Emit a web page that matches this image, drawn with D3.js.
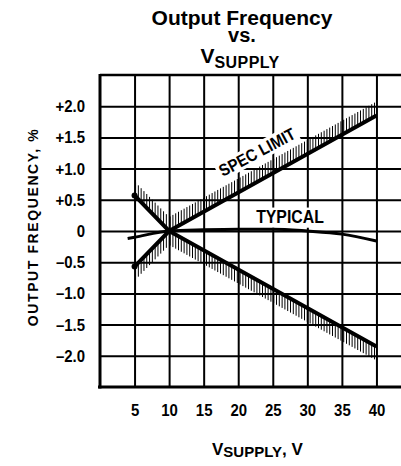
<!DOCTYPE html>
<html>
<head>
<meta charset="utf-8">
<script src="https://cdn.jsdelivr.net/npm/d3@7"></script>
<style>
  body { margin: 0; background: #fff; }
  svg { display: block; }
  .bold { font-family: 'Liberation Sans', Arial, Helvetica, sans-serif; font-weight: bold; }
</style>
</head>
<body>
<svg id="chart" width="401" height="466"></svg>
<script>
// data
const vTicks = [5, 10, 15, 20, 25, 30, 35, 40];
const fTicks = [2, 1.5, 1, 0.5, 0, -0.5, -1, -1.5, -2];
const typicalV = [4, 5, 10, 15, 20, 25, 30, 35, 40];
const typicalF = [-0.12, -0.1, 0, 0.02, 0.03, 0.03, 0.0, -0.05, -0.16];
const specV = [5, 10, 40];
const specUpper = [0.57, 0, 1.85];
const specLower = [-0.57, 0, -1.85];

const svg = d3.select('#chart');
const W = 401;
const mLeft = 100, mTop = 75, mBottom = 387;
const squeeze = 0.88; // fake a condensed face

const x = d3.scaleLinear().domain([0, 45]).range([mLeft, 411]);
const y = d3.scaleLinear().domain([-2.5, 2.5]).range([mBottom, mTop]);

// title, three separate lines
const titleLine = (txt, ty, size) => svg.append('text')
  .attr('class', 'bold')
  .attr('text-anchor', 'middle')
  .attr('x', 242).attr('y', ty)
  .style('font-size', size + 'px')
  .text(txt);
titleLine('Output Frequency', 25, 21);
titleLine('vs.', 42, 20);
const t3 = svg.append('text').attr('class', 'bold')
  .attr('text-anchor', 'middle').attr('x', 240).attr('y', 63)
  .style('font-size', '21px');
t3.append('tspan').text('V');
t3.append('tspan').attr('dy', 5).style('font-size', '16px')
  .style('letter-spacing', '0.4px').text('SUPPLY');

// grid + y labels
const yAxis = d3.axisLeft(y)
  .tickValues(fTicks)
  .tickSize(-(W - mLeft))
  .tickPadding(15)
  .tickFormat(d => d === 0 ? '0' : (d > 0 ? '+' : '\u2013') + Math.abs(d).toFixed(1));
const gy = svg.append('g')
  .attr('transform', `translate(${mLeft},0)`)
  .call(yAxis);
gy.select('.domain').remove();
gy.selectAll('line').attr('stroke', '#000').attr('stroke-width', 2);
gy.selectAll('text').attr('class', 'bold').style('font-size', '17px').attr('fill', '#000')
  .attr('x', -15 / squeeze).attr('transform', `scale(${squeeze},1)`);

const xAxis = d3.axisBottom(x)
  .tickValues(vTicks)
  .tickSize(-(mBottom - mTop))
  .tickPadding(17);
const gx = svg.append('g')
  .attr('transform', `translate(0,${mBottom})`)
  .call(xAxis);
gx.select('.domain').remove();
gx.selectAll('line').attr('stroke', '#000').attr('stroke-width', 2);
gx.selectAll('text').attr('class', 'bold').style('font-size', '17px').attr('fill', '#000')
  .attr('transform', `scale(${squeeze},1)`);

// frame
svg.append('line').attr('x1', mLeft).attr('x2', W).attr('y1', mTop).attr('y2', mTop)
  .attr('stroke', '#000').attr('stroke-width', 2.5);
svg.append('line').attr('x1', mLeft).attr('x2', mLeft).attr('y1', mTop - 1).attr('y2', mBottom + 1.5)
  .attr('stroke', '#000').attr('stroke-width', 3);
svg.append('line').attr('x1', mLeft - 2).attr('x2', W).attr('y1', mBottom).attr('y2', mBottom)
  .attr('stroke', '#000').attr('stroke-width', 3);

// hatching on the outer side of the spec limit
const hatch = (vals, dir) => {
  const g = svg.append('g').attr('stroke', '#000').attr('stroke-width', 1);
  for (let i = 0; i < specV.length - 1; i++) {
    const x0 = x(specV[i]), x1 = x(specV[i + 1]);
    const y0 = y(vals[i]), y1 = y(vals[i + 1]);
    d3.range(x0 + 1, x1, 2.8).forEach(px => {
      const py = y0 + (y1 - y0) * (px - x0) / (x1 - x0);
      g.append('line').attr('x1', px).attr('x2', px)
        .attr('y1', py).attr('y2', py + dir * 14);
    });
  }
};
hatch(specUpper, -1);
hatch(specLower, 1);

// labels with white backing
const label = (txt, cx, cy, ang, size) => {
  const g = svg.append('g')
    .attr('transform', `translate(${cx},${cy}) rotate(${ang}) scale(${squeeze},1)`);
  const t = g.append('text').attr('class', 'bold')
    .attr('text-anchor', 'middle').attr('dy', '0.36em')
    .style('font-size', size + 'px').text(txt);
  const b = t.node().getBBox();
  g.insert('rect', 'text').attr('x', b.x - 3).attr('y', b.y).attr('width', b.width + 6)
    .attr('height', b.height).attr('fill', '#fff');
};
label('SPEC LIMIT', 257, 152, -28, 17);
label('TYPICAL', 290, 217, 0, 18);

// lines
const line = d3.line().x(d => x(d[0])).y(d => y(d[1]));
svg.append('path').datum(specV.map((v, i) => [v, specUpper[i]]))
  .attr('d', line).attr('fill', 'none').attr('stroke', '#000').attr('stroke-width', 4);
svg.append('path').datum(specV.map((v, i) => [v, specLower[i]]))
  .attr('d', line).attr('fill', 'none').attr('stroke', '#000').attr('stroke-width', 4);
svg.append('path').datum(typicalV.map((v, i) => [v, typicalF[i]]))
  .attr('d', d3.line().x(d => x(d[0])).y(d => y(d[1])).curve(d3.curveMonotoneX))
  .attr('fill', 'none').attr('stroke', '#000').attr('stroke-width', 3);
svg.selectAll('.dot').data([specUpper[0], specLower[0]]).join('circle')
  .attr('cx', x(specV[0])).attr('cy', d => y(d)).attr('r', 3).attr('fill', '#000');

// axis titles
svg.append('text').attr('class', 'bold')
  .attr('transform', 'translate(38,227) rotate(-90)')
  .attr('text-anchor', 'middle')
  .style('font-size', '14px')
  .style('letter-spacing', '1.6px')
  .text('OUTPUT FREQUENCY, %');

const xt = svg.append('text').attr('class', 'bold')
  .attr('x', 212).attr('y', 455).style('font-size', '17px');
xt.append('tspan').text('V');
xt.append('tspan').attr('dy', 2).style('font-size', '15px').text('SUPPLY');
xt.append('tspan').attr('dy', -2).text(', V');
</script>
</body>
</html>
